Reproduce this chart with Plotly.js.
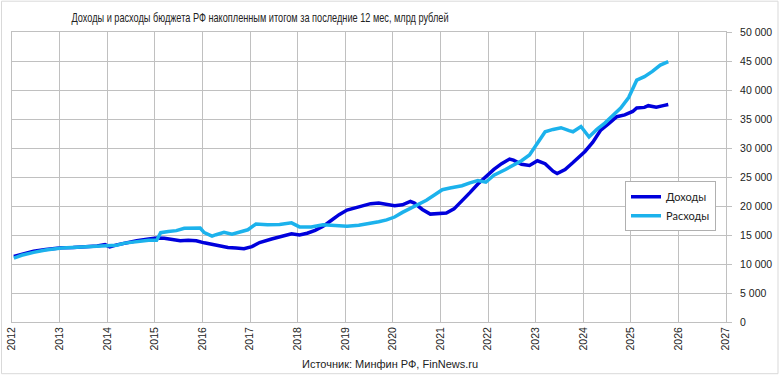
<!DOCTYPE html>
<html>
<head>
<meta charset="utf-8">
<script src="https://cdn.plot.ly/plotly-3.0.1.min.js"></script>
<style>
html,body{margin:0;padding:0;background:#fff;}
#chart{width:780px;height:376px;}
#chart text.gtitle{transform-box:fill-box;transform-origin:50% 50%;transform:scaleX(0.68);}
</style>
</head>
<body>
<div id="chart"></div>
<script>
const incomeDates = ['2012-01-15','2012-03-15','2012-06-15','2012-09-15','2013-01-15','2013-04-15','2013-07-15','2013-10-15','2013-12-15','2014-01-20','2014-03-15','2014-05-15','2014-08-15','2014-11-15','2015-01-15','2015-03-15','2015-05-15','2015-07-15','2015-09-15','2015-11-15','2016-01-15','2016-03-15','2016-05-15','2016-07-15','2016-09-15','2016-11-15','2017-01-15','2017-03-15','2017-06-15','2017-09-15','2017-11-15','2018-01-15','2018-03-15','2018-05-15','2018-07-15','2018-09-15','2018-11-15','2019-01-15','2019-03-15','2019-05-15','2019-07-15','2019-09-15','2019-11-15','2020-01-15','2020-03-15','2020-05-15','2020-06-15','2020-08-15','2020-10-15','2020-12-15','2021-02-15','2021-04-15','2021-06-15','2021-08-15','2021-10-15','2021-12-15','2022-02-15','2022-04-15','2022-06-15','2022-07-15','2022-09-15','2022-11-15','2023-01-15','2023-03-15','2023-05-15','2023-06-15','2023-08-15','2023-10-15','2023-12-15','2024-01-15','2024-03-15','2024-05-15','2024-07-15','2024-09-15','2024-11-15','2025-01-15','2025-02-15','2025-04-15','2025-05-15','2025-07-15','2025-09-15','2025-10-15'];
const incomeValues = [11300,11700,12200,12500,12800,12850,12900,13100,13350,12950,13300,13600,14000,14300,14500,14450,14250,14000,14100,14000,13650,13400,13100,12850,12750,12650,13000,13700,14300,14800,15200,15000,15300,15800,16500,17500,18500,19300,19700,20000,20400,20500,20300,20050,20200,20800,20500,19400,18600,18750,18800,19500,20800,22300,23800,25100,26300,27300,28100,27900,27200,27000,27800,27300,26000,25600,26300,27500,28900,29400,31000,33100,34200,35400,35700,36300,36900,37000,37300,37050,37350,37500];

const expenseDates = ['2012-01-15','2012-03-15','2012-06-15','2012-09-15','2013-01-15','2013-04-15','2013-07-15','2013-10-15','2014-01-15','2014-03-15','2014-05-15','2014-08-15','2014-11-15','2015-01-15','2015-02-15','2015-04-15','2015-06-15','2015-08-15','2015-10-15','2015-12-15','2016-01-15','2016-03-15','2016-04-15','2016-06-15','2016-08-15','2016-10-15','2016-12-15','2017-02-15','2017-05-15','2017-08-15','2017-11-15','2018-01-15','2018-04-15','2018-07-15','2018-10-15','2019-01-15','2019-04-15','2019-06-15','2019-09-15','2019-11-15','2020-01-15','2020-03-15','2020-05-15','2020-07-15','2020-09-15','2020-11-15','2021-01-15','2021-03-15','2021-06-15','2021-08-15','2021-10-15','2021-12-15','2022-02-15','2022-05-15','2022-07-15','2022-09-15','2022-11-15','2023-01-15','2023-03-15','2023-05-15','2023-07-15','2023-09-15','2023-10-15','2023-12-15','2024-02-15','2024-04-15','2024-06-15','2024-08-15','2024-10-15','2024-12-15','2025-02-15','2025-04-15','2025-06-15','2025-08-15','2025-10-15'];
const expenseValues = [11000,11500,12000,12400,12750,12850,12850,13000,13200,13250,13600,13900,14100,14100,15400,15600,15750,16150,16100,16200,15400,14800,15050,15450,15150,15500,15900,16900,16750,16800,17100,16400,16400,16750,16700,16500,16700,16900,17300,17600,18100,18900,19600,20400,21000,21900,22800,23100,23500,24000,24400,24100,25300,26300,27000,27800,28800,30800,32800,33200,33500,33000,32800,33700,31900,33200,34300,35600,36900,38700,41700,42300,43200,44300,44900];

const seriesNames = ['Доходы', 'Расходы'];
const titleText = 'Доходы и расходы бюджета РФ накопленным итогом за последние 12 мес, млрд рублей';
const sourceText = 'Источник: Минфин РФ, FinNews.ru';

const tickFont = {family: 'Liberation Sans, Arial, sans-serif', size: 10.5, color: '#222'};
const legendFontFamily = 'Lato, Liberation Sans, sans-serif';

const traces = [
  {x: incomeDates, y: incomeValues, name: seriesNames[0], type: 'scatter', mode: 'lines',
   line: {color: '#0000DC', width: 3.5}},
  {x: expenseDates, y: expenseValues, name: seriesNames[1], type: 'scatter', mode: 'lines',
   line: {color: '#1CB2EC', width: 3.5}}
];

const layout = {
  width: 780, height: 376,
  margin: {l: 12, r: 54, t: 32, b: 54},
  paper_bgcolor: '#fff', plot_bgcolor: '#fff',
  separators: ', ',
  showlegend: true,
  title: {text: titleText, font: {family: 'Liberation Sans, Arial, sans-serif', size: 13.5, color: '#222'},
          x: 260/780, xanchor: 'center', xref: 'container', y: 1 - 17/376, yanchor: 'middle', yref: 'container'},
  xaxis: {type: 'date', range: ['2012-01-01', '2027-01-01'], tick0: '2012-01-01', dtick: 'M12',
          tickformat: '%Y', tickangle: -90, tickfont: tickFont,
          showgrid: true, gridcolor: '#c0c0c0', gridwidth: 1,
          showline: true, linecolor: '#c0c0c0', mirror: true, ticks: '', zeroline: false, fixedrange: true},
  yaxis: {range: [0, 50000], dtick: 5000, side: 'right', tickfont: tickFont, tickformat: ',d',
          showgrid: true, gridcolor: '#c0c0c0', gridwidth: 1, zeroline: false,
          showline: true, linecolor: '#c0c0c0', mirror: true, ticks: 'outside', ticklen: 5, tickcolor: '#c0c0c0',
          ticklabelstandoff: 6, fixedrange: true},
  legend: {x: 0.986, xanchor: 'right', y: 0.485, yanchor: 'top', bgcolor: '#fff',
           bordercolor: '#b0b0b0', borderwidth: 1, font: {family: legendFontFamily, size: 11, color: '#222'},
           tracegroupgap: 0, itemwidth: 30},
  annotations: [{text: sourceText, xref: 'paper', yref: 'paper', x: (390-12)/714, y: (322.3-364)/290,
                 xanchor: 'center', yanchor: 'middle', showarrow: false,
                 font: {family: 'Liberation Sans, Arial, sans-serif', size: 11, color: '#222'}}],
  shapes: [{type: 'rect', xref: 'paper', yref: 'paper', x0: (1.5-12)/714, x1: (778-12)/714,
            y0: (322.3-374)/290, y1: (322.3-1.5)/290, line: {color: '#d9d9d9', width: 1}, layer: 'below'}]
};

Plotly.newPlot('chart', traces, layout, {displayModeBar: false, staticPlot: true});
</script>
</body>
</html>
